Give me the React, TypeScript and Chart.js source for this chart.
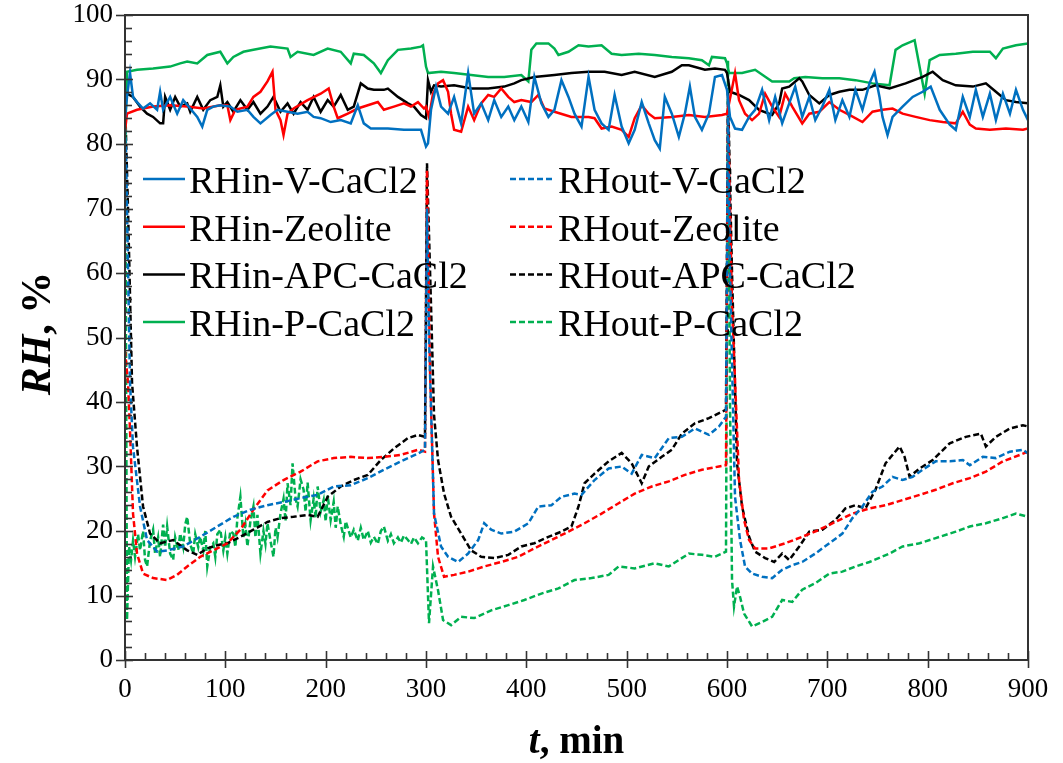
import React, { useEffect, useRef } from 'react';
import { Chart, registerables } from 'chart.js';

Chart.register(...registerables);

const FONT = '"Liberation Serif", "Times New Roman", Times, serif';

const seriesLabels = [
  'RHin-V-CaCl2', 'RHin-Zeolite', 'RHin-APC-CaCl2', 'RHin-P-CaCl2',
  'RHout-V-CaCl2', 'RHout-Zeolite', 'RHout-APC-CaCl2', 'RHout-P-CaCl2',
];
const seriesColors = ['#0070C0', '#FF0000', '#000000', '#00B050', '#0070C0', '#FF0000', '#000000', '#00B050'];

const xTickValues = [0, 100, 200, 300, 400, 500, 600, 700, 800, 900];
const yTickValues = [0, 10, 20, 30, 40, 50, 60, 70, 80, 90, 100];

const rhinV = [[0,84],[2,87.3],[5,91],[8,87.3],[12,86.5],[18,85.5],[25,86.3],[32,85.3],[35,88.1],[38,85.3],[45,87.3],[52,84.7],[58,86.8],[65,85.5],[72,84.2],[77,82.7],[82,85.3],[88,85.8],[95,86],[105,85.8],[112,85],[122,85.3],[128,84.2],[135,83.2],[145,84.5],[152,85.3],[162,85],[172,84.7],[182,85],[188,84.2],[195,84],[205,83.4],[215,83.7],[225,83.2],[232,86],[238,83.2],[245,82.4],[262,82.4],[278,82.2],[295,82.2],[300,79.6],[302,80.1],[305,85.3],[310,88.9],[315,85.8],[322,84.7],[328,87.3],[335,83.2],[342,91],[348,84.7],[355,86.3],[362,83.7],[368,86.8],[375,84.2],[382,85.8],[388,83.7],[395,85.8],[402,83.4],[408,90.4],[415,86.3],[422,84.2],[428,85.3],[435,89.9],[442,87.3],[448,84.7],[455,82.7],[462,90.4],[468,85.3],[475,83.2],[482,82.2],[488,87.6],[495,82.7],[502,80.1],[508,82.2],[515,86.5],[522,83.2],[528,80.6],[533,79.3],[538,87.3],[545,84.7],[552,81.1],[558,84.7],[563,88.9],[568,84.2],[575,82.2],[582,84.7],[588,90.4],[595,90.7],[600,88.4],[603,84.2],[608,82.4],[615,82.2],[622,84.2],[628,85.3],[635,88.4],[642,83.7],[648,87.3],[655,83.2],[662,86.3],[668,88.9],[675,84.2],[682,87.3],[688,83.7],[695,85.8],[702,88.4],[708,83.7],[715,86.8],[722,84.2],[728,88.4],[735,85.3],[742,89.4],[747,91.2],[752,87.3],[755,84.2],[760,81.4],[765,84.2],[775,85.8],[785,87.3],[795,88.1],[803,88.9],[812,85.3],[822,83],[828,82.2],[835,87.3],[842,84.2],[848,88.4],[855,84.2],[862,87.8],[868,83.7],[875,87.8],[882,84.7],[888,88.4],[895,85.3],[900,83.7]];

const rhinZ = [[0,82],[2,84.7],[12,85.3],[28,85.8],[45,86],[62,85.8],[78,85.5],[95,86],[102,86],[105,83.7],[110,85.3],[122,85.8],[128,87.3],[135,88.1],[142,89.7],[147,91.2],[150,85.3],[155,83.7],[158,81.4],[162,84.7],[168,85.5],[182,86.8],[195,87.8],[203,88.6],[208,85.8],[212,84],[222,84.7],[232,85.5],[242,86],[252,86.5],[258,85.3],[268,85.8],[278,86.3],[285,85.8],[292,86.5],[298,85.5],[300,85.8],[303,84.2],[307,87.8],[312,89.4],[317,89.9],[322,88.1],[325,84.7],[328,82.2],[335,81.9],[342,85.8],[348,83.7],[355,86.3],[362,87.6],[368,87.3],[375,88.6],[382,87.3],[388,86.5],[395,86.8],[405,86.5],[412,87.6],[418,85.5],[428,85],[445,84.2],[462,84.2],[468,84],[475,82.4],[485,82.7],[495,82.2],[502,81.1],[508,84],[515,86],[522,84.7],[528,84],[545,84.2],[562,84.5],[578,84.2],[595,84.5],[600,84.7],[605,88.6],[608,91],[612,86.8],[618,84.7],[625,83.7],[632,84.7],[638,87.8],[645,85.8],[652,84.2],[658,87.8],[665,85.8],[675,83.2],[682,84.7],[692,85],[702,86.5],[712,85.3],[722,84.5],[735,83.4],[745,85],[755,85.3],[765,85.5],[775,84.7],[788,84.2],[802,83.7],[815,83.4],[828,83.2],[835,85],[842,83],[848,82.4],[862,82.2],[878,82.4],[895,82.2],[900,82.4]];

const rhinA = [[0,86],[2,87.8],[8,87.3],[15,85.8],[22,84.7],[28,84.2],[35,83.2],[38,83.2],[40,87.3],[45,85.3],[50,87.3],[55,85.8],[62,86.3],[65,85],[72,87.3],[78,85.3],[85,86.8],[92,87.3],[95,89.1],[98,85.8],[102,86.5],[108,85],[115,86.8],[122,85.3],[128,86.5],[135,84.7],[142,85.8],[148,87.3],[155,85],[162,86.3],[168,84.7],[175,86.5],[182,85.3],[188,87.3],[195,85],[202,86.8],[208,85.8],[215,87.6],[222,85.3],[228,85.8],[235,89.4],[242,88.6],[248,88.4],[258,88.4],[262,88.6],[272,87.3],[282,86.3],[288,85.8],[295,84.5],[300,84],[302,89.9],[305,88.1],[308,89.1],[315,88.9],[328,89.1],[345,88.6],[362,88.6],[378,88.9],[388,89.4],[395,89.9],[408,90.4],[428,90.7],[445,91],[462,91.2],[478,91.2],[495,90.7],[508,91.2],[528,90.4],[545,91.2],[555,92.2],[562,92.2],[578,91.5],[588,91.7],[598,91.5],[600,91],[603,88.1],[612,87.6],[622,86.8],[632,85.3],[645,84.5],[652,86.3],[655,88.6],[662,88.9],[672,90.2],[675,89.7],[682,87.6],[692,86.3],[702,87.6],[712,88.1],[722,88.4],[735,88.4],[748,89.1],[762,88.6],[778,89.4],[795,90.4],[805,91.2],[815,89.9],[828,89.1],[845,88.9],[858,89.4],[868,88.1],[878,86.8],[888,86.5],[900,86.3]];

const rhinP = [[0,80],[2,91.2],[12,91.5],[28,91.7],[45,92],[55,92.5],[62,92.8],[72,92.5],[82,93.8],[95,94.3],[102,92.5],[108,93.5],[118,94.3],[128,94.6],[145,95.1],[162,94.8],[165,93.5],[172,94.3],[188,93.8],[202,94.8],[215,94.3],[225,92.5],[228,94],[238,93.8],[248,92.5],[255,91],[262,93],[272,94.6],[285,94.8],[295,95.1],[297,95.3],[300,92],[302,91],[315,91.2],[328,91],[345,90.7],[362,90.4],[378,90.4],[395,90.7],[402,89.7],[405,94.6],[410,95.6],[422,95.6],[428,94.8],[432,93.8],[442,94.3],[452,95.3],[462,95.1],[475,95.3],[485,94],[495,93.8],[512,94],[528,93.8],[545,93.5],[562,93.3],[575,93],[582,92.2],[585,93.5],[598,93.3],[600,92.5],[602,91],[615,91],[628,91.5],[645,89.7],[662,89.7],[667,90.2],[678,90.4],[695,90.2],[712,90.2],[728,89.9],[745,89.4],[762,89.1],[768,94.6],[775,95.3],[787,96.1],[797,87.8],[802,93],[812,93.8],[828,94],[845,94.3],[862,94.3],[868,93.3],[875,94.8],[888,95.3],[900,95.6]];

const routV = [[0,88],[2,70],[5,43],[8,33],[15,23.8],[22,18.6],[32,16.8],[42,17],[58,17.6],[75,19.1],[92,20.7],[108,22.2],[125,23.3],[142,24],[158,24.5],[175,25.1],[192,25.6],[208,26.9],[225,27.1],[242,28.2],[258,29.5],[275,30.8],[292,32],[299,32.6],[301,70],[303,50],[308,22.7],[315,17.6],[322,16],[332,15.2],[342,16.5],[352,18.6],[358,21.2],[365,20.2],[375,19.6],[388,19.9],[402,21.2],[412,23.8],[425,24],[435,25.3],[448,25.8],[455,25.6],[468,27.9],[482,29.7],[495,30],[505,28.9],[515,31.8],[528,31.3],[542,34.4],[555,34.6],[568,35.9],[582,34.9],[592,36.2],[599,37.7],[601,87],[603,60],[608,25.3],[613,18.6],[618,14.5],[625,13.4],[635,12.9],[645,12.7],[655,14],[665,14.7],[675,15.2],[688,16.5],[702,18.1],[715,19.6],[725,22],[735,23.8],[745,26.1],[755,26.9],[765,28.4],[775,27.9],[785,28.4],[795,29.5],[808,30.8],[822,30.8],[835,31],[842,30.2],[855,31.5],[868,31.3],[882,32.3],[895,32.6],[900,32]];

const routZ = [[0,48],[3,43],[5,35.6],[8,22.7],[12,16.5],[18,13.4],[28,12.7],[42,12.4],[52,13.2],[62,14.5],[75,16],[88,17],[102,18.1],[115,20.2],[128,23.3],[142,26.3],[158,27.9],[175,29.2],[192,30.8],[208,31.3],[225,31.5],[242,31.3],[258,31.5],[275,31.8],[292,32.6],[299,32.3],[301,76],[304,45],[308,22.7],[312,16],[318,12.9],[328,13.2],[342,13.7],[358,14.5],[375,15.2],[392,16],[408,17.3],[425,18.6],[442,19.9],[458,21.2],[475,22.7],[492,24.3],[508,25.8],[525,26.9],[542,27.7],[558,28.7],[575,29.5],[592,30],[599,30.2],[601,85],[605,55],[612,27.9],[617,21.7],[622,18.6],[628,17.3],[642,17.3],[658,18.1],[675,19.1],[692,20.2],[708,21.4],[725,22.7],[742,23.5],[758,24],[775,24.8],[792,25.6],[808,26.4],[825,27.4],[842,28.2],[858,29.2],[875,30.8],[892,31.8],[900,32.3]];

const routA = [[0,87],[3,70],[7,43],[12,33],[18,23.8],[25,19.6],[35,18.1],[48,18.6],[62,17],[72,16.3],[82,17.3],[92,17.8],[102,18.1],[115,19.1],[128,20.2],[142,21.4],[155,22],[168,22.2],[182,22.5],[192,22.2],[202,25.3],[215,26.9],[228,27.9],[242,28.7],[255,31],[268,32.8],[282,34.4],[292,34.9],[299,34.6],[301,77],[305,55],[308,38],[312,31],[318,25.8],[325,22.2],[335,19.6],[345,17],[355,16],[368,15.8],[382,16.3],[395,17.6],[408,18.1],[422,19.1],[435,19.9],[445,20.7],[452,23.8],[458,27.4],[468,28.9],[482,30.8],[495,32.1],[505,30.5],[515,27.4],[522,30],[535,31.5],[545,32.6],[555,35.1],[568,36.7],[582,37.5],[595,38.5],[599,38.8],[601,88],[605,60],[610,30.5],[615,23.8],[622,19.1],[628,16.8],[638,15.8],[647,15.2],[655,16.5],[662,15.5],[672,17.6],[682,19.9],[695,20.2],[708,21.7],[718,23.5],[728,24],[738,23.5],[748,26.4],[758,30.5],[772,33.1],[777,31.5],[782,28.4],[792,29.7],[805,31],[822,33.6],[838,34.6],[853,35.1],[858,33.1],[868,34.6],[882,35.9],[895,36.4],[900,36.2]];

const routP = [[0,91],[2,6.2],[4,17.6],[6,15.5],[8,18.5],[10,16],[13,19.5],[15,17],[18,20],[20,15.5],[22,14.5],[25,18.5],[28,20.2],[30,16.5],[33,19],[35,16],[38,21],[40,17.5],[42,20.7],[45,16.5],[48,15.5],[50,19],[53,17],[55,19.6],[58,17.5],[60,21],[62,22.2],[65,18],[68,16.5],[70,19.5],[73,17.5],[75,19.1],[78,17],[80,20],[82,14.5],[85,17.5],[88,18.1],[90,16],[92,19.5],[95,20.2],[98,17],[100,19],[102,16.5],[105,20],[108,19.6],[110,17.5],[112,22],[115,25.3],[118,19],[120,21],[122,17.6],[125,21.5],[128,23.8],[130,19],[132,22.5],[135,16.5],[138,20],[140,18],[142,21.2],[145,18.5],[148,16],[150,20.5],[152,19],[155,22.7],[158,25],[160,21.5],[162,27.4],[165,24],[167,30.5],[170,25],[172,23.8],[175,28],[178,26.4],[180,23],[182,27.5],[185,21.7],[188,25],[190,22],[192,26.9],[195,23],[198,24.8],[200,21.5],[202,25.5],[205,21.7],[208,24.5],[210,20.5],[212,23.8],[215,21],[218,19.1],[220,21.5],[225,19],[228,20.2],[232,18.5],[235,20.5],[238,18.6],[242,20],[245,18.2],[248,19.1],[252,18],[255,20],[258,20.7],[262,18.5],[265,19.5],[268,18.1],[272,19],[275,18.2],[278,19.3],[282,18.6],[285,18],[288,19],[292,18.1],[296,19],[300,18.6],[303,5.7],[307,14.5],[312,10.8],[317,6.2],[325,5.4],[335,6.7],[348,6.5],[365,7.7],[382,8.5],[398,9.3],[415,10.3],[432,11.1],[448,12.4],[465,12.7],[482,13.2],[492,14.5],[508,14.2],[528,15],[542,14.5],[562,16.5],[575,16.3],[588,16],[599,16.8],[601,93],[603,40],[605,12.4],[607,8.3],[610,11.4],[613,9.8],[617,7.2],[625,5.2],[635,5.9],[645,6.7],[655,9.3],[665,9],[675,10.9],[688,11.9],[702,13.4],[715,13.7],[728,14.5],[742,15.2],[762,16.5],[775,17.6],[792,18.1],[808,18.9],[828,19.9],[842,20.7],[858,21.2],[875,22],[888,22.7],[900,22.2]];

const allSeries = [rhinV, rhinZ, rhinA, rhinP, routV, routZ, routA, routP];

const decorPlugin = {
  id: 'decor',
  afterDraw(chart: any) {
    const { ctx, chartArea: a, scales } = chart;
    const x = scales.x;
    const y = scales.y;
    ctx.save();
    ctx.strokeStyle = '#333333';
    ctx.lineWidth = 2;
    ctx.strokeRect(a.left, a.top, a.right - a.left, a.bottom - a.top);
    ctx.lineWidth = 1.6;
    for (let v = 0; v <= 900; v += 20) {
      const px = Math.round(x.getPixelForValue(v)) + 0.5;
      const major = v % 100 === 0;
      ctx.beginPath();
      ctx.moveTo(px, a.bottom + (major ? 8 : 0));
      ctx.lineTo(px, a.bottom - (major ? 9 : 7));
      ctx.stroke();
    }
    for (let v = 0; v <= 100; v += 2) {
      const py = Math.round(y.getPixelForValue(v)) + 0.5;
      const major = v % 10 === 0;
      ctx.beginPath();
      ctx.moveTo(a.left - (major ? 9 : 0), py);
      ctx.lineTo(a.left + (major ? 8 : 7), py);
      ctx.stroke();
    }
    // axis titles
    ctx.fillStyle = '#000';
    ctx.textBaseline = 'alphabetic';
    ctx.textAlign = 'left';
    // x title
    const xs = 39;
    const p1 = 't';
    const p2 = ', min';
    ctx.font = `italic bold ${xs}px ${FONT}`;
    const w1 = ctx.measureText(p1).width;
    ctx.font = `bold ${xs}px ${FONT}`;
    const w2 = ctx.measureText(p2).width;
    const cx = (a.left + a.right) / 2;
    const sx = cx - (w1 + w2) / 2;
    const by = 753;
    ctx.font = `italic bold ${xs}px ${FONT}`;
    ctx.fillText(p1, sx, by);
    ctx.font = `bold ${xs}px ${FONT}`;
    ctx.fillText(p2, sx + w1, by);
    // y title
    const ys = 42;
    const q1 = 'RH';
    const q2 = ', %';
    ctx.font = `italic bold ${ys}px ${FONT}`;
    const v1 = ctx.measureText(q1).width;
    ctx.font = `bold ${ys}px ${FONT}`;
    const v2 = ctx.measureText(q2).width;
    const cy = (a.top + a.bottom) / 2 - 4;
    ctx.save();
    ctx.translate(50, cy);
    ctx.rotate(-Math.PI / 2);
    const sy = -(v1 + v2) / 2;
    ctx.font = `italic bold ${ys}px ${FONT}`;
    ctx.fillText(q1, sy, 0);
    ctx.font = `bold ${ys}px ${FONT}`;
    ctx.fillText(q2, sy + v1, 0);
    ctx.restore();
    // legend
    const ds = chart.data.datasets;
    ctx.font = `38px ${FONT}`;
    for (let i = 0; i < ds.length; i++) {
      const col = i < 4 ? 0 : 1;
      const row = i % 4;
      const lineY = a.top + 164 + row * 47.7;
      const x0 = col === 0 ? a.left + 18 : a.left + 385;
      const x1 = col === 0 ? a.left + 60 : a.left + 429;
      const tx = col === 0 ? a.left + 64 : a.left + 433;
      ctx.strokeStyle = ds[i].borderColor;
      ctx.lineWidth = 2.5;
      ctx.setLineDash(ds[i].borderDash || []);
      ctx.beginPath();
      ctx.moveTo(x0, lineY);
      ctx.lineTo(x1, lineY);
      ctx.stroke();
      ctx.setLineDash([]);
      ctx.fillStyle = '#000';
      ctx.fillText(ds[i].label, tx, lineY + 14);
    }
    ctx.restore();
  },
};

export default function App() {
  const ref = useRef<HTMLCanvasElement | null>(null);
  useEffect(() => {
    document.body.style.margin = '0';
    const canvas = ref.current;
    if (!canvas) return;
    const datasets = allSeries.map((s, i) => ({
      label: seriesLabels[i],
      data: s.map(([t, v]) => ({ x: t, y: v })),
      borderColor: seriesColors[i],
      backgroundColor: seriesColors[i],
      borderWidth: 2.5,
      borderDash: i >= 4 ? [6, 3] : [],
      pointRadius: 0,
      tension: 0,
      fill: false,
    }));
    const chart = new Chart(canvas, {
      type: 'line',
      data: { datasets },
      options: {
        animation: false,
        responsive: false,
        devicePixelRatio: 1,
        layout: { padding: { top: 15, right: 35, left: 0, bottom: 0 } },
        plugins: { legend: { display: false }, tooltip: { enabled: false } },
        scales: {
          x: {
            type: 'linear',
            min: 0,
            max: 900,
            afterFit: (s: any) => { s.height = 103; s.paddingLeft = 0; s.paddingRight = 0; },
            afterBuildTicks: (s: any) => { s.ticks = xTickValues.map((v) => ({ value: v })); },
            grid: { display: false, drawTicks: false },
            border: { display: false },
            ticks: { font: { family: FONT, size: 27 }, color: '#000', padding: 14, maxRotation: 0 },
          },
          y: {
            type: 'linear',
            min: 0,
            max: 100,
            afterFit: (s: any) => { s.width = 125; s.paddingTop = 0; s.paddingBottom = 0; },
            afterBuildTicks: (s: any) => { s.ticks = yTickValues.map((v) => ({ value: v })); },
            grid: { display: false, drawTicks: false },
            border: { display: false },
            ticks: { font: { family: FONT, size: 27 }, color: '#000', padding: 12 },
          },
        },
      },
      plugins: [decorPlugin],
    });
    return () => chart.destroy();
  }, []);
  return <canvas ref={ref} width={1063} height={763} style={{ display: 'block' }} />;
}
